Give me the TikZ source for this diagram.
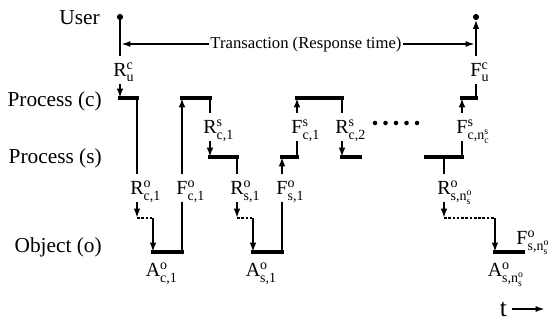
\documentclass[tikz,border=0pt]{standalone}
\usepackage{amsmath}
\usepackage{fontspec}
\setmainfont{LiberationSerif}[Extension=.ttf,UprightFont=*-Regular,BoldFont=*-Bold,ItalicFont=*-Italic]
\usetikzlibrary{arrows.meta}
\newcommand{\ev}[3]{#1\rlap{$^{\text{#2}}_{\text{#3}}$}}

\begin{document}
\begin{tikzpicture}[x=0.75pt,y=-0.75pt,
  lvl/.style={font=\fontsize{16}{16}\selectfont,anchor=east,inner sep=0pt},
  evt/.style={font=\fontsize{15}{15}\selectfont,inner sep=0pt,text height=15.5pt,text depth=5.5pt},
  lane/.style={line width=2.6pt,line cap=rect},
  wire/.style={line width=2pt},
  tip/.style={wire,-{Latex[length=7pt,width=5pt]}},
  wait/.style={line width=2.2pt,dash pattern=on 2pt off 1.2pt}]
\useasboundingbox (0,0) rectangle (550,320);
\coordinate (u0) at (120,17);
\coordinate (u1) at (476,17);
\coordinate (pc0) at (120,98);
\coordinate (pc1) at (137,98);
\coordinate (pc2) at (182,98);
\coordinate (pc3) at (210,98);
\coordinate (pc4) at (297,98);
\coordinate (pc5) at (342,98);
\coordinate (pc6) at (462,98);
\coordinate (pc7) at (476,98);
\coordinate (ps1) at (210,157);
\coordinate (ps2) at (237,157);
\coordinate (ps3) at (282,157);
\coordinate (ps4) at (297,157);
\coordinate (ps5) at (342,157);
\coordinate (ps6) at (360,157);
\coordinate (ps7) at (426,157);
\coordinate (ps8) at (444,157);
\coordinate (ps9) at (462,157);
\coordinate (pd1) at (137,218);
\coordinate (pd2) at (153,218);
\coordinate (pd3) at (237,218);
\coordinate (pd4) at (253,218);
\coordinate (pd5) at (444,218);
\coordinate (pd6) at (495,218);
\coordinate (po1) at (153,252);
\coordinate (po2) at (182,252);
\coordinate (po3) at (253,252);
\coordinate (po4) at (282,252);
\coordinate (po5) at (495,252);
\coordinate (po6) at (523,252);
\node[lvl] (user) at (100,18) {User};
\node[lvl] (procc) at (102,101) {Process (c)};
\node[lvl] (procs) at (102,158) {Process (s)};
\node[lvl] (obj) at (102,247) {Object (o)};
\node[evt] (Ruc) at (120,70) {\ev{R}{c}{u}};
\node[evt] (Fuc) at (476,70) {\ev{F}{c}{u}};
\node[evt] (Rcs1) at (210,127) {\ev{R}{s}{c,1}};
\node[evt] (Fcs1) at (297,127) {\ev{F}{s}{c,1}};
\node[evt] (Rcs2) at (342,127) {\ev{R}{s}{c,2}};
\node[evt] (Fcsn) at (462,127) {\ev{F}{s}{c,n$^{\text{s}}_{\text{c}}$}};
\node[evt] (Rco1) at (137,188) {\ev{R}{o}{c,1}};
\node[evt] (Fco1) at (182,188) {\ev{F}{o}{c,1}};
\node[evt] (Rso1) at (237,188) {\ev{R}{o}{s,1}};
\node[evt] (Fso1) at (282,188) {\ev{F}{o}{s,1}};
\node[evt] (Rson) at (444,188) {\ev{R}{o}{s,n$^{\text{o}}_{\text{s}}$}};
\node[evt] (Fson) at (522,238) {\ev{F}{o}{s,n$^{\text{o}}_{\text{s}}$}};
\node[evt] (Aco1) at (153,270) {\ev{A}{o}{c,1}};
\node[evt] (Aso1) at (253,270) {\ev{A}{o}{s,1}};
\node[evt] (Ason) at (495,270) {\ev{A}{o}{s,n$^{\text{o}}_{\text{s}}$}};
\node[font=\fontsize{12.5}{12.5}\selectfont,inner sep=1pt] (trans) at (306,44) {Transaction (Response time)};
\node[font=\fontsize{19}{19}\selectfont,inner ysep=0pt,inner xsep=3.5pt] (tlbl) at (503.5,309) {t};
\coordinate (tend) at (545,309);
\draw[line width=1.5pt,-{Latex[length=7pt,width=4.5pt]}] (trans.west) -- (121,44);
\draw[line width=1.5pt,-{Latex[length=7pt,width=4.5pt]}] (trans.east) -- (475,44);
\draw[line width=1.5pt,-{Latex[length=7pt,width=4.5pt]}] (tlbl.east) -- (tend);
\draw[lane] (pc0)--(pc1) (pc2)--(pc3) (pc4)--(pc5) (pc6)--(pc7);
\draw[lane] (ps1)--(ps2) (ps3)--(ps4) (ps5)--(ps6) (ps7)--(ps9);
\draw[lane] (po1)--(po2) (po3)--(po4) (po5)--(po6);
\draw[wait] (pd1)--(pd2) (pd3)--(pd4) (pd5)--(pd6);
\draw[wire] (u0)--(Ruc.north);
\draw[tip] (Ruc.south)--(pc0);
\draw[wire] (pc1)--(Rco1.north);
\draw[tip] (Rco1.south)--(pd1);
\draw[tip] (pd2)--(po1);
\draw[wire] (po2)--(Fco1.south);
\draw[tip] (Fco1.north)--(pc2);
\draw[wire] (pc3)--(Rcs1.north);
\draw[tip] (Rcs1.south)--(ps1);
\draw[wire] (ps2)--(Rso1.north);
\draw[tip] (Rso1.south)--(pd3);
\draw[tip] (pd4)--(po3);
\draw[wire] (po4)--(Fso1.south);
\draw[tip] (Fso1.north)--(ps3);
\draw[wire] (ps4)--(Fcs1.south);
\draw[tip] (Fcs1.north)--(pc4);
\draw[wire] (pc5)--(Rcs2.north);
\draw[tip] (Rcs2.south)--(ps5);
\draw[wire] (ps8)--(Rson.north);
\draw[tip] (Rson.south)--(pd5);
\draw[tip] (pd6)--(po5);
\draw[wire] (ps9)--(Fcsn.south);
\draw[tip] (Fcsn.north)--(pc6);
\draw[wire] (pc7)--(Fuc.south);
\draw[tip,shorten >=2pt] (Fuc.north)--(u1);
\fill (u0) circle (2.3pt);
\fill (u1) circle (2.3pt);
\foreach \dx in {375,385.5,396,406.5,417}
  \fill (\dx,123) circle (1.7pt);
\end{tikzpicture}
\end{document}
